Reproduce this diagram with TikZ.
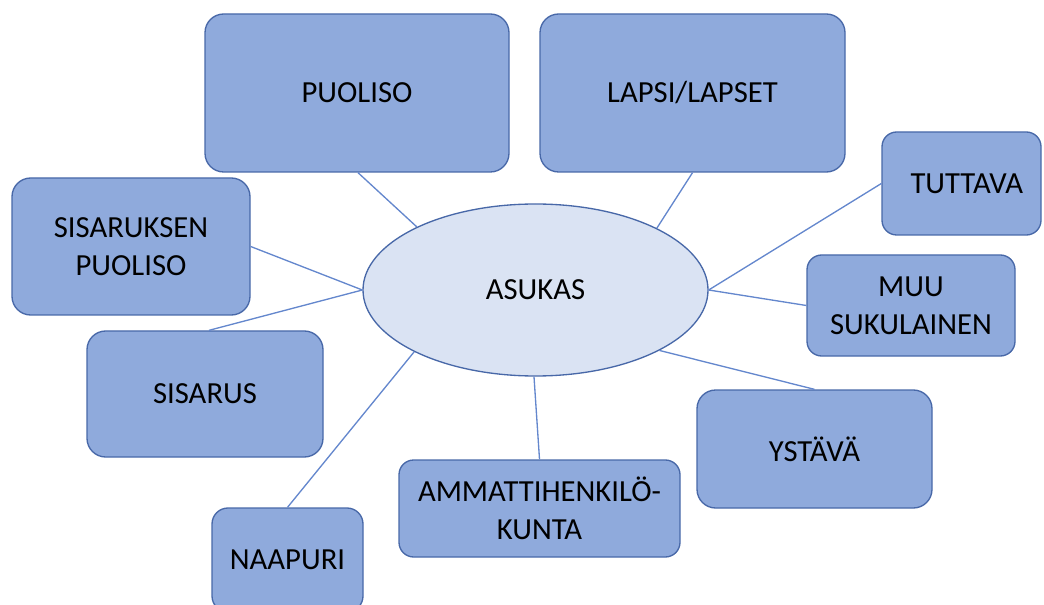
\documentclass[tikz,border=0pt]{standalone}
\usepackage{fontspec}
\setmainfont{Carlito}
\usetikzlibrary{shapes.geometric}
\definecolor{boxfill}{RGB}{143,170,220}
\definecolor{boxline}{RGB}{72,104,168}
\definecolor{ellfill}{RGB}{218,227,243}
\definecolor{conn}{RGB}{100,135,205}
\tikzset{
  box/.style={draw=boxline, line width=1pt, fill=boxfill, rounded corners=14pt,
    align=center, font=\fontsize{23}{28.5}\selectfont, inner sep=0pt},
  hub/.style={ellipse, draw=boxline, line width=1pt, fill=ellfill, inner sep=0pt,
    font=\fontsize{23}{28.5}\selectfont},
  link/.style={draw=conn, line width=1pt}
}
\begin{document}
\begin{tikzpicture}[x=0.75pt,y=-0.75pt]
\path[use as bounding box] (0,0) rectangle (1044,605);
\begin{scope}
\clip (0,0) rectangle (1044,605);
\node[hub, minimum width=258.75pt, minimum height=129pt] (asukas) at (535.5,290) {ASUKAS};
\node[box, minimum width=228pt, minimum height=118.5pt] (puoliso) at (357,93) {PUOLISO};
\node[box, minimum width=228.75pt, minimum height=118.5pt] (lapsi) at (692.5,93) {LAPSI/LAPSET};
\node[box, minimum width=119.25pt, minimum height=77.25pt, rounded corners=11pt] (tuttava) at (961.5,183.5) {\hspace*{8pt}TUTTAVA};
\node[box, minimum width=156pt, minimum height=75.75pt, rounded corners=11pt] (muu) at (911,305.5) {MUU\\SUKULAINEN};
\node[box, minimum width=176.25pt, minimum height=88.5pt] (ystava) at (814.5,449) {YSTÄVÄ};
\node[box, minimum width=210.75pt, minimum height=72.75pt, rounded corners=11pt] (ammatti) at (539.5,508.5) {AMMATTIHENKILÖ-\\KUNTA};
\node[box, minimum width=113.25pt, minimum height=78pt, rounded corners=12pt] (naapuri) at (287.5,560) {NAAPURI};
\node[box, minimum width=177pt, minimum height=94.5pt] (sisarus) at (205,394) {SISARUS};
\node[box, minimum width=178.5pt, minimum height=102.75pt] (sisaruksen) at (131,246.5) {SISARUKSEN\\PUOLISO};
\draw[link] ([xshift=0.75pt]puoliso.south) -- (asukas.152.5);
\draw[link] (lapsi.south) -- (asukas.27.7);
\draw[link] (tuttava.west) -- (asukas.east);
\draw[link] (muu.west) -- (asukas.east);
\draw[link] (ystava.north) -- (asukas.-26.2);
\draw[link] (ammatti.north) -- (asukas.-91.5);
\draw[link] (naapuri.north) -- (asukas.207);
\draw[link] ([xshift=3pt]sisarus.north) -- (asukas.west);
\draw[link] (sisaruksen.east) -- (asukas.west);
\end{scope}
\end{tikzpicture}
\end{document}
